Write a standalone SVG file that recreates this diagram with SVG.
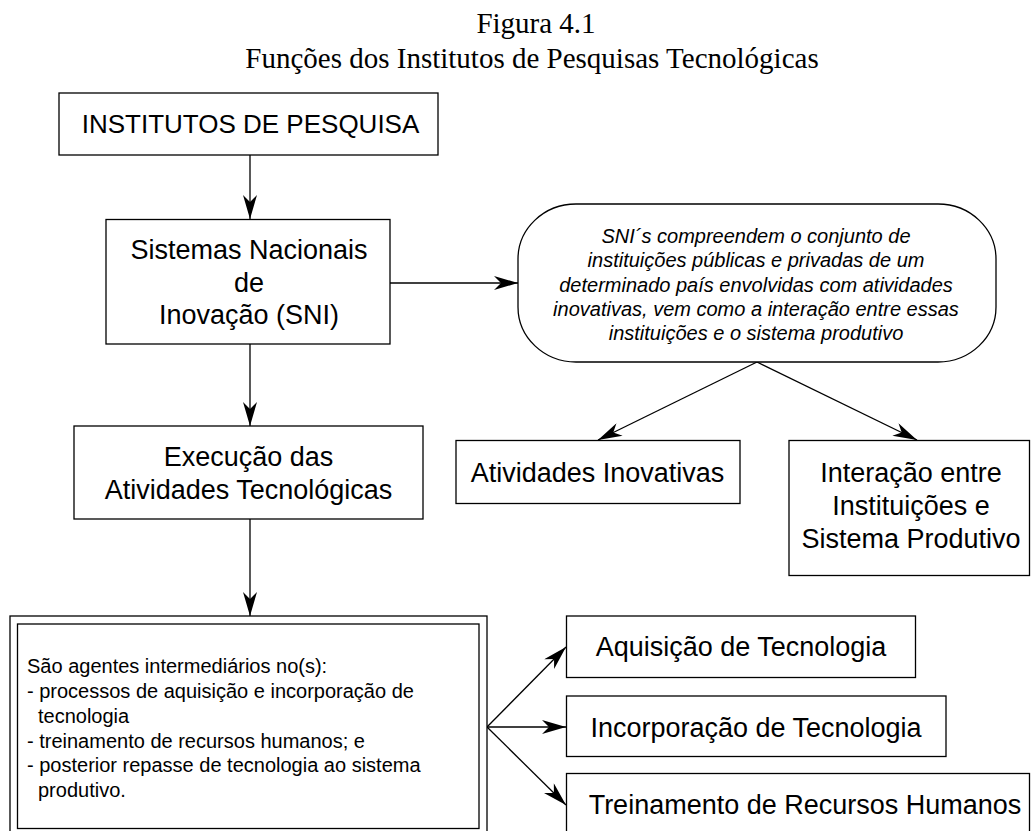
<svg xmlns="http://www.w3.org/2000/svg" width="1031" height="831" viewBox="0 0 1031 831">
<style>
.box{fill:#fff;stroke:#000;stroke-width:1.3}
.t{font-family:"Liberation Sans",Arial,sans-serif;font-size:27px;fill:#000;text-anchor:middle}
.ti{font-family:"Liberation Sans",Arial,sans-serif;font-size:20px;font-style:italic;fill:#000;text-anchor:middle}
.ts{font-family:"Liberation Sans",Arial,sans-serif;font-size:20px;fill:#000}
.title{font-family:"Liberation Serif","Times New Roman",serif;font-size:29px;fill:#000;text-anchor:middle}
.c{fill:none;stroke:#000;stroke-width:1.3;marker-end:url(#ah)}
</style>
<defs>
<marker id="ah" markerUnits="userSpaceOnUse" viewBox="0 0 24 14" refX="24" refY="7" markerWidth="24" markerHeight="14" orient="auto">
<path d="M0,0 L24,7 L0,14 L7,7 Z" fill="#000"/>
</marker>
</defs>
<rect width="1031" height="831" fill="#fff"/>
<g id="title">
<text class="title" x="536" y="33">Figura 4.1</text>
<text class="title" x="532" y="68">Funções dos Institutos de Pesquisas Tecnológicas</text>
</g>
<g id="connectors">
<path class="c" d="M250,155 V219"/>
<path class="c" d="M390,283 H518"/>
<path class="c" d="M250,344 V426"/>
<path class="c" d="M250,519 V616"/>
<path class="c" d="M757,362 L598,440"/>
<path class="c" d="M757,362 L917,440"/>
<path class="c" d="M487,727 L566,647"/>
<path class="c" d="M487,727 H566"/>
<path class="c" d="M487,727 L566,805"/>
</g>
<g id="institutos">
<rect class="box" x="59" y="93" width="379" height="62"/>
<text class="t" x="250.5" y="133" style="font-size:26px">INSTITUTOS DE PESQUISA</text>
</g>
<g id="sni">
<rect class="box" x="106" y="219.5" width="284" height="124.5"/>
<text class="t" x="249" y="259">Sistemas Nacionais</text>
<text class="t" x="249" y="291.5">de</text>
<text class="t" x="249" y="324">Inovação (SNI)</text>
</g>
<g id="sni-def">
<rect class="box" x="518" y="204" width="478" height="158" rx="58" ry="55"/>
<text class="ti" x="756" y="243">SNI´s compreendem o conjunto de</text>
<text class="ti" x="756" y="267">instituições públicas e privadas de um</text>
<text class="ti" x="756" y="292">determinado país envolvidas com atividades</text>
<text class="ti" x="756" y="316">inovativas, vem como a interação entre essas</text>
<text class="ti" x="756" y="340">instituições e o sistema produtivo</text>
</g>
<g id="execucao">
<rect class="box" x="74" y="426" width="349" height="93"/>
<text class="t" x="248.5" y="466">Execução das</text>
<text class="t" x="248.5" y="498.5">Atividades Tecnológicas</text>
</g>
<g id="atividades">
<rect class="box" x="456" y="440.5" width="284" height="63"/>
<text class="t" x="597.5" y="482">Atividades Inovativas</text>
</g>
<g id="interacao">
<rect class="box" x="789" y="440.5" width="240.5" height="135"/>
<text class="t" x="911" y="482">Interação entre</text>
<text class="t" x="911" y="515">Instituições e</text>
<text class="t" x="911" y="548">Sistema Produtivo</text>
</g>
<g id="agentes">
<rect class="box" x="10" y="616" width="477" height="222"/>
<rect class="box" x="17.5" y="624" width="461.5" height="204.5"/>
<text class="ts" x="27" y="673">São agentes intermediários no(s):</text>
<text class="ts" x="27" y="698">- processos de aquisição e incorporação de</text>
<text class="ts" x="38" y="723">tecnologia</text>
<text class="ts" x="27" y="747.5">- treinamento de recursos humanos; e</text>
<text class="ts" x="27" y="772">- posterior repasse de tecnologia ao sistema</text>
<text class="ts" x="38" y="797">produtivo.</text>
</g>
<g id="aquisicao">
<rect class="box" x="566.5" y="616" width="349" height="61.5"/>
<text class="t" x="741" y="656">Aquisição de Tecnologia</text>
</g>
<g id="incorporacao">
<rect class="box" x="566.5" y="696" width="379.5" height="60.5"/>
<text class="t" x="756" y="737">Incorporação de Tecnologia</text>
</g>
<g id="treinamento">
<rect class="box" x="566.5" y="773.5" width="463" height="70"/>
<text class="t" x="805" y="813.5">Treinamento de Recursos Humanos</text>
</g>
</svg>
